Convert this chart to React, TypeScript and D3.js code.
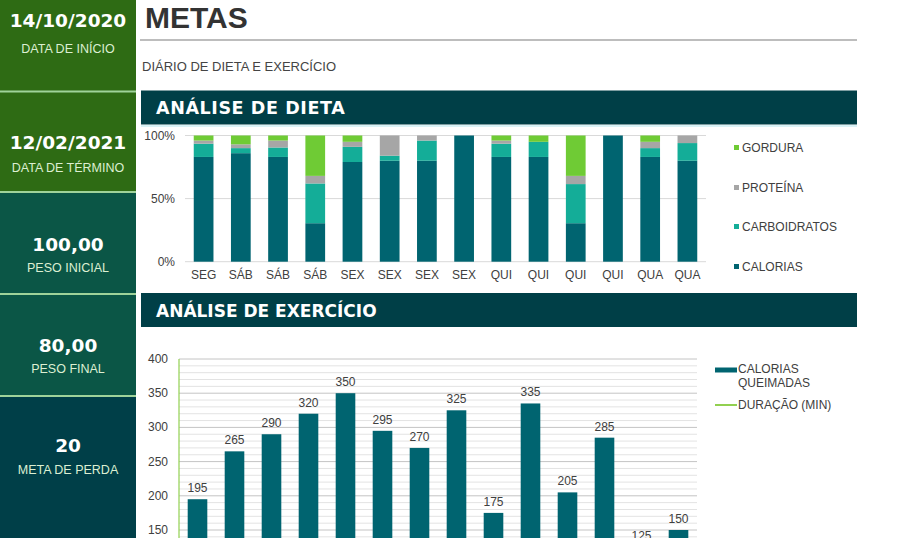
import React from "react";
import * as d3 from "d3";

const dietDays = ["SEG", "SÁB", "SÁB", "SÁB", "SEX", "SEX", "SEX", "SEX", "QUI", "QUI", "QUI", "QUI", "QUA", "QUA"];
const calorias = [83, 86, 83, 30.5, 79, 80, 80, 100, 83, 83, 30.5, 100, 83, 80];
const carboidratos = [10.5, 4, 7.5, 31.5, 12, 4, 16, 0, 10.5, 12, 31, 0, 7, 14];
const proteina = [2.5, 3, 5.5, 6, 4, 16, 4, 0, 2.5, 0, 6.5, 0, 5, 6];
const gordura = [4, 7, 4, 32, 5, 0, 0, 0, 4, 5, 32, 0, 5, 0];
const dietSeriesNames = ["CALORIAS", "CARBOIDRATOS", "PROTEÍNA", "GORDURA"];
const dietTicks = [0, 0.5, 1];

const exerciseValues = [195, 265, 290, 320, 350, 295, 270, 325, 175, 335, 205, 285, 125, 150];
const exerciseTicks = [150, 200, 250, 300, 350, 400];

const summaryValues = ["14/10/2020", "12/02/2021", "100,00", "80,00", "20"];
const summaryLabels = ["DATA DE INÍCIO", "DATA DE TÉRMINO", "PESO INICIAL", "PESO FINAL", "META DE PERDA"];

const C_CAL = "#006470";
const C_CARB = "#14ad98";
const C_PROT = "#a6a6a6";
const C_FAT = "#6fcb35";
const dietColors = [C_CAL, C_CARB, C_PROT, C_FAT];

const SANS = "'Liberation Sans', Arial, sans-serif";
const BOLD = "'DejaVu Sans', 'Liberation Sans', sans-serif";

export default function App() {
  const boxes = [
    { y0: 0, y1: 91, fill: "#2e6b14", vy: 27, ly: 53 },
    { y0: 92, y1: 191, fill: "#2e6b14", vy: 149, ly: 172 },
    { y0: 193, y1: 293, fill: "#0b5646", vy: 251, ly: 272 },
    { y0: 295, y1: 395, fill: "#0b5646", vy: 352, ly: 373 },
    { y0: 397, y1: 538, fill: "#003f48", vy: 452, ly: 474 },
  ];

  const dx = d3.scaleBand<number>().domain(d3.range(dietDays.length)).range([185, 706]).paddingInner(0.47).paddingOuter(0.235);
  const dy = d3.scaleLinear().domain([0, 1]).range([261.7, 135.5]);
  const rows = dietDays.map((_, i) => {
    const vals = [calorias[i], carboidratos[i], proteina[i], gordura[i]];
    const tot = d3.sum(vals);
    return { i, c0: vals[0] / tot, c1: vals[1] / tot, c2: vals[2] / tot, c3: vals[3] / tot };
  });
  const stack = d3.stack<any>().keys(["c0", "c1", "c2", "c3"])(rows);

  const ex = d3.scaleBand<number>().domain(d3.range(exerciseValues.length)).range([179, 697]).paddingInner(0.47).paddingOuter(0.235);
  const ey = d3.scaleLinear().domain([0, 400]).range([632.6, 359]);
  const minor = d3.range(0, 401, 10);

  const legendDiet = [3, 2, 1, 0];
  const legendDietY = [148, 188, 227, 267];

  return (
    <svg width={900} height={538} style={{ position: "absolute", left: 0, top: 0, background: "#fff" }}>
      {boxes.map((b, i) => (
        <g key={i}>
          <rect x={0} y={b.y0} width={136} height={b.y1 - b.y0} fill={b.fill} />
          <text x={68} y={b.vy} textAnchor="middle" fill="#ffffff" fontFamily={BOLD} fontWeight="bold" fontSize={18.5}>
            {summaryValues[i]}
          </text>
          <text x={68} y={b.ly} textAnchor="middle" fill="#dcefd2" fontFamily={SANS} fontSize={12.5}>
            {summaryLabels[i]}
          </text>
        </g>
      ))}
      {[91.5, 192, 294, 396].map((y, i) => (
        <line key={i} x1={0} x2={136} y1={y} y2={y} stroke="#9fd39a" strokeWidth={2} />
      ))}

      <text x={145} y={28} fill="#333333" fontFamily={SANS} fontWeight="bold" fontSize={30}>METAS</text>
      <line x1={140} x2={857} y1={40} y2={40} stroke="#bdbdbd" strokeWidth={2} />
      <text x={142} y={71} fill="#444" fontFamily={SANS} fontSize={13}>DIÁRIO DE DIETA E EXERCÍCIO</text>

      <rect x={141} y={90.5} width={716} height={34} fill="#003f47" />
      <text x={156} y={114} fill="#fff" fontFamily={BOLD} fontWeight="bold" fontSize={17.5} letterSpacing={0.6}>ANÁLISE DE DIETA</text>
      <line x1={141} x2={857} y1={126} y2={126} stroke="#cdeef3" strokeWidth={1.5} />

      {dietTicks.map((t) => (
        <g key={t}>
          <line x1={185} x2={706} y1={dy(t)} y2={dy(t)} stroke="#d9d9d9" />
          <text x={175} y={dy(t) + 4} textAnchor="end" fill="#404040" fontFamily={SANS} fontSize={12}>{`${t * 100}%`}</text>
        </g>
      ))}
      {stack.map((layer, k) => (
        <g key={k} fill={dietColors[k]}>
          {layer.map((d, i) => (
            <rect key={i} x={dx(i)} width={dx.bandwidth()} y={dy(d[1])} height={Math.max(0, dy(d[0]) - dy(d[1]))} />
          ))}
        </g>
      ))}
      {dietDays.map((d, i) => (
        <text key={i} x={(dx(i) as number) + dx.bandwidth() / 2} y={279} textAnchor="middle" fill="#404040" fontFamily={SANS} fontSize={12}>{d}</text>
      ))}
      {legendDiet.map((k, j) => (
        <g key={k}>
          <rect x={734} y={legendDietY[j] - 3} width={5} height={5} fill={dietColors[k]} />
          <text x={742} y={legendDietY[j] + 4} fill="#404040" fontFamily={SANS} fontSize={12}>{dietSeriesNames[k]}</text>
        </g>
      ))}

      <rect x={141} y={293} width={716} height={34} fill="#003f47" />
      <text x={156} y={317} fill="#fff" fontFamily={BOLD} fontWeight="bold" fontSize={17} letterSpacing={0}>ANÁLISE DE EXERCÍCIO</text>

      {minor.map((v) => (
        <line key={v} x1={179} x2={697} y1={ey(v)} y2={ey(v)} stroke={v % 50 === 0 ? "#c4c4c4" : "#e3e3e3"} strokeWidth={1} />
      ))}
      <line x1={179} x2={179} y1={359} y2={633} stroke="#92d050" strokeWidth={1.2} />
      {exerciseTicks.map((t) => (
        <text key={t} x={168} y={ey(t) + 4} textAnchor="end" fill="#404040" fontFamily={SANS} fontSize={12}>{t}</text>
      ))}
      {exerciseValues.map((v, i) => (
        <g key={i}>
          <rect x={ex(i)} width={ex.bandwidth()} y={ey(v)} height={ey(0) - ey(v)} fill={C_CAL} />
          <text x={(ex(i) as number) + ex.bandwidth() / 2} y={ey(v) - 7} textAnchor="middle" fill="#404040" fontFamily={SANS} fontSize={12}>{v}</text>
        </g>
      ))}
      <line x1={715} x2={737} y1={370} y2={370} stroke={C_CAL} strokeWidth={5} />
      <text x={738} y={373} fill="#404040" fontFamily={SANS} fontSize={12}>CALORIAS</text>
      <text x={738} y={387} fill="#404040" fontFamily={SANS} fontSize={12}>QUEIMADAS</text>
      <line x1={715} x2={737} y1={405} y2={405} stroke="#92d050" strokeWidth={2} />
      <text x={738} y={409} fill="#404040" fontFamily={SANS} fontSize={12}>DURAÇÃO (MIN)</text>
    </svg>
  );
}
